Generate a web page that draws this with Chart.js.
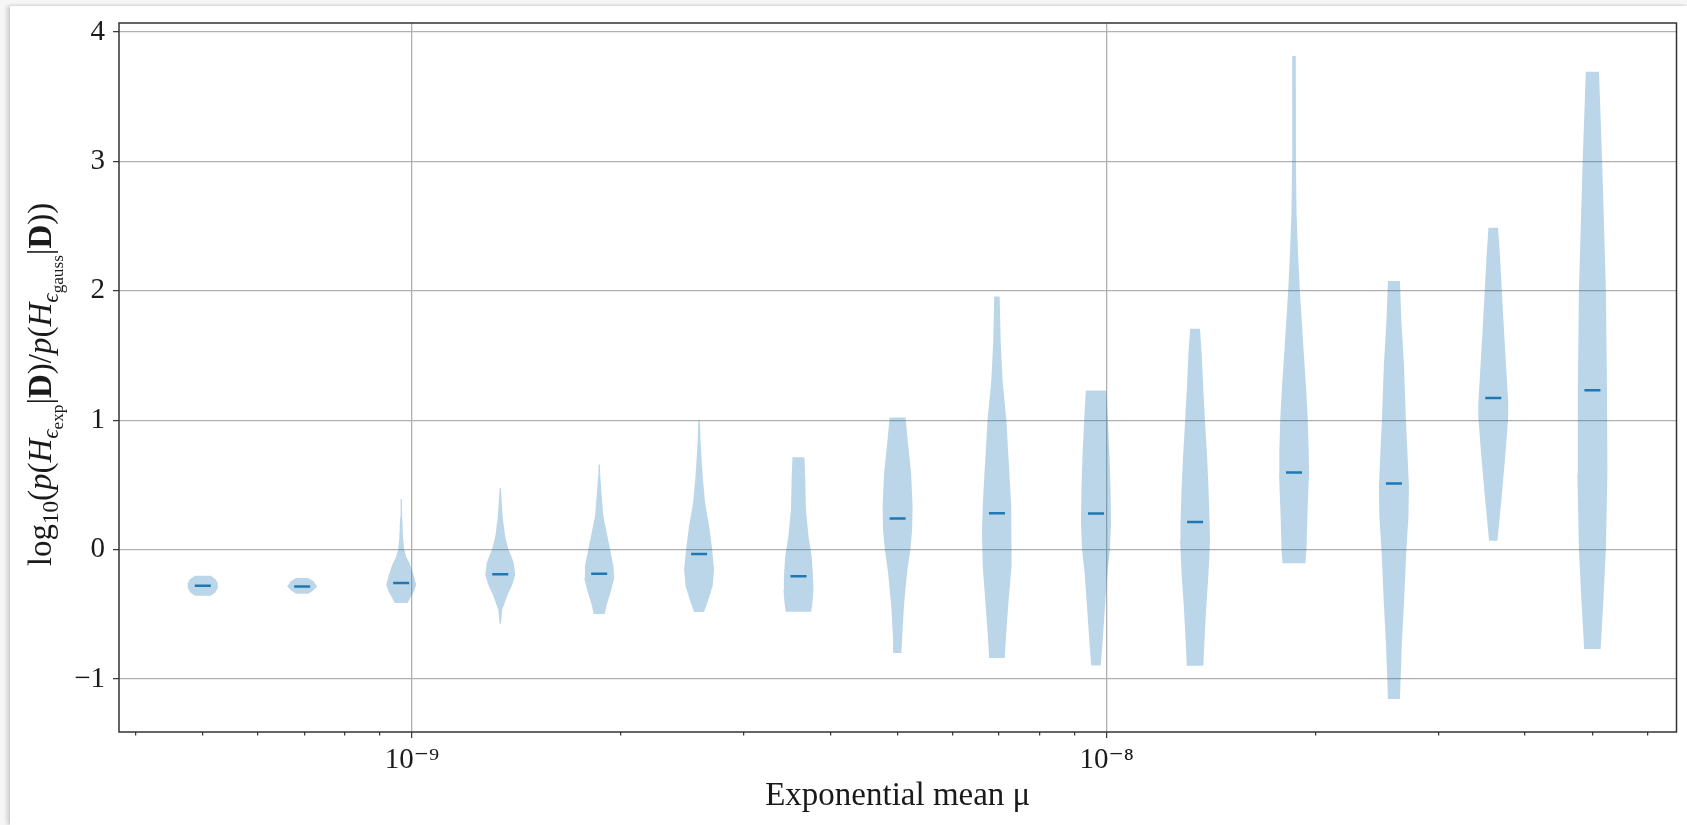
<!DOCTYPE html>
<html>
<head>
<meta charset="utf-8">
<script src="https://cdn.jsdelivr.net/npm/chart.js@4.4.1/dist/chart.umd.min.js"></script>
<style>
  html, body { margin: 0; padding: 0; width: 1687px; height: 825px; overflow: hidden; background: #f6f6f6; }
  #card { position: absolute; left: 10px; top: 6px; right: 0; bottom: 0; background: #ffffff;
          box-shadow: -3px 0 4px rgba(0,0,0,0.16), 0 -1px 2px rgba(0,0,0,0.07); }
  #chart { position: absolute; left: 0; top: 0; }
</style>
</head>
<body>
<div id="card"></div>
<canvas id="chart" width="1687" height="825"></canvas>
<script>
// Exponential mean values (violin positions)
const mu = [5.00e-10, 6.95e-10, 9.65e-10, 1.34e-9, 1.86e-9, 2.59e-9, 3.60e-9,
            5.00e-9, 6.95e-9, 9.65e-9, 1.34e-8, 1.86e-8, 2.59e-8, 3.60e-8, 5.00e-8];

// Median log10 Bayes factor for each mu
const medians = [-0.280, -0.285, -0.258, -0.190, -0.187, -0.034, -0.207,
                 0.241, 0.280, 0.278, 0.213, 0.595, 0.511, 1.171, 1.231];

// Kernel density profiles, top to bottom: [log10 Bayes factor, relative density]
const violin01 = [[-0.202, 0.53], [-0.230, 0.85], [-0.258, 1.00], [-0.297, 1.00], [-0.330, 0.85], [-0.357, 0.53]];
const violin02 = [[-0.220, 0.40], [-0.245, 0.75], [-0.285, 1.00], [-0.320, 0.70], [-0.341, 0.40]];
const violin03 = [[0.391, 0.04], [0.250, 0.07], [0.100, 0.12], [0.000, 0.20], [-0.060, 0.35], [-0.103, 0.55],
                  [-0.160, 0.72], [-0.207, 0.85], [-0.271, 1.00], [-0.323, 0.85], [-0.370, 0.62], [-0.413, 0.42]];
const violin04 = [[0.476, 0.04], [0.360, 0.10], [0.232, 0.18], [0.103, 0.33], [0.000, 0.55], [-0.055, 0.75],
                  [-0.103, 0.90], [-0.194, 1.00], [-0.271, 0.80], [-0.362, 0.45], [-0.465, 0.13], [-0.573, 0.05]];
const violin05 = [[0.657, 0.05], [0.567, 0.07], [0.412, 0.17], [0.257, 0.28], [0.130, 0.50], [0.000, 0.73],
                  [-0.129, 0.95], [-0.219, 1.00], [-0.323, 0.78], [-0.426, 0.50], [-0.498, 0.37]];
const violin06 = [[0.995, 0.05], [0.825, 0.10], [0.567, 0.24], [0.360, 0.40], [0.180, 0.67], [0.000, 0.87],
                  [-0.155, 1.00], [-0.284, 0.90], [-0.413, 0.55], [-0.483, 0.33]];
const violin07 = [[0.713, 0.40], [0.567, 0.45], [0.310, 0.50], [0.103, 0.67], [-0.052, 0.88], [-0.207, 0.97],
                  [-0.310, 1.00], [-0.413, 0.93], [-0.480, 0.85]];
const violin08 = [[1.020, 0.53], [0.850, 0.67], [0.592, 0.90], [0.334, 1.00], [0.154, 0.97], [0.000, 0.85],
                  [-0.180, 0.63], [-0.440, 0.42], [-0.697, 0.30], [-0.800, 0.25]];
const violin09 = [[1.957, 0.18], [1.600, 0.25], [1.300, 0.38], [1.000, 0.63], [0.850, 0.70], [0.592, 0.83],
                  [0.334, 0.95], [0.130, 1.00], [-0.129, 0.95], [-0.388, 0.78], [-0.645, 0.62], [-0.838, 0.52]];
const violin10 = [[1.229, 0.68], [0.979, 0.80], [0.721, 0.90], [0.463, 0.97], [0.206, 1.00], [0.000, 0.93],
                  [-0.180, 0.76], [-0.440, 0.60], [-0.697, 0.45], [-0.896, 0.32]];
const violin11 = [[1.706, 0.33], [1.494, 0.45], [1.237, 0.55], [0.979, 0.67], [0.721, 0.80], [0.463, 0.90],
                  [0.206, 0.97], [0.077, 1.00], [-0.180, 0.90], [-0.440, 0.75], [-0.697, 0.63], [-0.898, 0.55]];
const violin12 = [[3.814, 0.12], [3.000, 0.13], [2.598, 0.17], [2.263, 0.28], [2.000, 0.39], [1.593, 0.61],
                  [1.258, 0.80], [1.000, 0.92], [0.755, 0.98], [0.588, 1.00], [0.253, 0.89], [0.000, 0.83], [-0.106, 0.76]];
const violin13 = [[2.075, 0.40], [1.760, 0.50], [1.425, 0.67], [1.000, 0.80], [0.755, 0.90], [0.487, 1.00],
                  [0.253, 0.97], [0.000, 0.83], [-0.417, 0.67], [-0.752, 0.52], [-1.154, 0.40]];
const violin14 = [[2.487, 0.32], [2.263, 0.45], [2.000, 0.57], [1.660, 0.73], [1.325, 0.90], [1.124, 1.00],
                  [1.000, 0.98], [0.755, 0.82], [0.420, 0.57], [0.069, 0.28]];
const violin15 = [[3.693, 0.44], [3.000, 0.65], [2.000, 0.90], [1.258, 0.97], [0.588, 1.00], [0.000, 0.90],
                  [-0.417, 0.72], [-0.769, 0.55]];

const profiles = [violin01, violin02, violin03, violin04, violin05, violin06, violin07, violin08,
                  violin09, violin10, violin11, violin12, violin13, violin14, violin15];

// Axis ticks and labels
const xMajorTicks = [1e-9, 1e-8];
const xMajorLabels = ['10\u207B\u2079', '10\u207B\u2078'];
const xMinorTicks = [4e-10, 5e-10, 6e-10, 7e-10, 8e-10, 9e-10,
                     2e-9, 3e-9, 4e-9, 5e-9, 6e-9, 7e-9, 8e-9, 9e-9,
                     2e-8, 3e-8, 4e-8, 5e-8, 6e-8];
const yTickValues = [-1, 0, 1, 2, 3, 4];
const yTickLabels = ['\u22121', '0', '1', '2', '3', '4'];

const xTitle = 'Exponential mean \u03BC';
// y title pieces: [text, style, script level]
const yTitleParts = [
  ['log', 'n', 0], ['10', 'n', 1], ['(', 'n', 0], ['p', 'i', 0], ['(', 'n', 0], ['H', 'i', 0],
  ['\u03F5', 'i', 1], ['exp', 'n', 2], ['|', 'n', 0], ['D', 'b', 0], [')/', 'n', 0], ['p', 'i', 0],
  ['(', 'n', 0], ['H', 'i', 0], ['\u03F5', 'i', 1], ['gauss', 'n', 2], ['|', 'n', 0], ['D', 'b', 0], ['))', 'n', 0]
];

// ---- styling ----
const SERIF = "'Liberation Serif', 'DejaVu Serif', serif";
const BODY_FILL = 'rgba(31,119,180,0.3)';
const MEDIAN_COLOR = '#1f77b4';
const GRID_COLOR = '#b0b0b0';
const INK = '#1a1a1a';
const HALF_WIDTH_DEC = 0.0216;   // half width of the widest violin, in decades of mu

const isPow10 = v => Math.abs(Math.log10(v) - Math.round(Math.log10(v))) < 1e-6;

function outline(center, profile) {
  const right = profile.map(([y, w]) => ({ x: center * Math.pow(10, HALF_WIDTH_DEC * w), y }));
  const left = profile.slice().reverse().map(([y, w]) => ({ x: center * Math.pow(10, -HALF_WIDTH_DEC * w), y }));
  return right.concat(left);
}

const violinSets = profiles.map((p, i) => ({
  type: 'line',
  data: outline(mu[i], p),
  fill: 'shape',
  backgroundColor: BODY_FILL,
  borderColor: 'rgba(0,0,0,0)',
  borderWidth: 1,
  pointRadius: 0,
  tension: 0,
  order: 2
}));

const medianSet = {
  type: 'line',
  data: mu.map((m, i) => ({ x: m, y: medians[i] })),
  showLine: false,
  pointStyle: 'line',
  pointRadius: 8,
  pointHoverRadius: 8,
  pointBorderWidth: 2.5,
  pointBorderColor: MEDIAN_COLOR,
  pointBackgroundColor: MEDIAN_COLOR,
  order: 1
};

// closed box around the plotting area
const framePlugin = {
  id: 'frame',
  afterDraw(chart) {
    const { ctx, chartArea: a } = chart;
    ctx.save();
    ctx.strokeStyle = '#333333';
    ctx.lineWidth = 1.5;
    ctx.strokeRect(a.left, a.top, a.right - a.left, a.bottom - a.top);
    ctx.restore();
  }
};

// rotated y title with sub/sub-sub scripts
const yTitlePlugin = {
  id: 'yTitle',
  afterDraw(chart) {
    const { ctx, chartArea: a } = chart;
    const S = 33;
    const sizes = [S, S * 0.7, S * 0.52];
    const shifts = [0, S * 0.22, S * 0.36];
    const fontFor = (style, lvl) =>
      (style === 'i' ? 'italic ' : style === 'b' ? 'bold ' : '') + sizes[lvl].toFixed(1) + 'px ' + SERIF;
    ctx.save();
    let total = 0;
    const widths = yTitleParts.map(([t, st, lvl]) => {
      ctx.font = fontFor(st, lvl);
      const w = ctx.measureText(t).width;
      total += w;
      return w;
    });
    ctx.translate(51, (a.top + a.bottom) / 2 + 7);
    ctx.rotate(-Math.PI / 2);
    ctx.fillStyle = INK;
    ctx.textBaseline = 'alphabetic';
    ctx.textAlign = 'left';
    let x = -total / 2;
    yTitleParts.forEach(([t, st, lvl], i) => {
      ctx.font = fontFor(st, lvl);
      ctx.fillText(t, x, shifts[lvl]);
      x += widths[i];
    });
    ctx.restore();
  }
};

new Chart(document.getElementById('chart'), {
  type: 'line',
  data: { datasets: [...violinSets, medianSet] },
  options: {
    responsive: false,
    animation: false,
    events: [],
    layout: { padding: { top: 23, right: 10, left: 0, bottom: 0 } },
    plugins: { legend: { display: false }, tooltip: { enabled: false } },
    scales: {
      x: {
        type: 'logarithmic',
        min: 3.788e-10,
        max: 6.607e-8,
        afterBuildTicks: s => {
          s.ticks = [...xMinorTicks, ...xMajorTicks].sort((p, q) => p - q).map(v => ({ value: v }));
        },
        afterFit: s => { s.height = 93; s.paddingLeft = 0; s.paddingRight = 0; },
        ticks: {
          autoSkip: false,
          maxRotation: 0,
          padding: 5,
          color: INK,
          font: { family: SERIF, size: 29 },
          callback: v => {
            const k = xMajorTicks.findIndex(t => Math.abs(t - v) / t < 1e-6);
            return k >= 0 ? xMajorLabels[k] : '';
          }
        },
        grid: {
          color: c => (c.tick && isPow10(c.tick.value)) ? GRID_COLOR : 'rgba(0,0,0,0)',
          lineWidth: 1.3,
          tickColor: '#333333',
          tickWidth: 1.2,
          tickLength: 6,
          tickBorderDash: c => (c.tick && isPow10(c.tick.value)) ? [] : [3.5, 20]
        },
        border: { display: false },
        title: {
          display: true,
          text: xTitle,
          color: INK,
          font: { family: SERIF, size: 33 },
          padding: { top: 0, bottom: 9 }
        }
      },
      y: {
        type: 'linear',
        min: -1.41,
        max: 4.07,
        afterBuildTicks: s => { s.ticks = yTickValues.map(v => ({ value: v })); },
        afterFit: s => { s.width = 119; s.paddingTop = 0; s.paddingBottom = 0; },
        ticks: {
          padding: 8,
          color: INK,
          font: { family: SERIF, size: 29 },
          callback: v => {
            const k = yTickValues.indexOf(Math.round(v));
            return k >= 0 ? yTickLabels[k] : '';
          }
        },
        grid: {
          color: GRID_COLOR,
          lineWidth: 1.3,
          tickColor: '#333333',
          tickWidth: 1.2,
          tickLength: 6
        },
        border: { display: false }
      }
    }
  },
  plugins: [framePlugin, yTitlePlugin]
});
</script>
</body>
</html>
